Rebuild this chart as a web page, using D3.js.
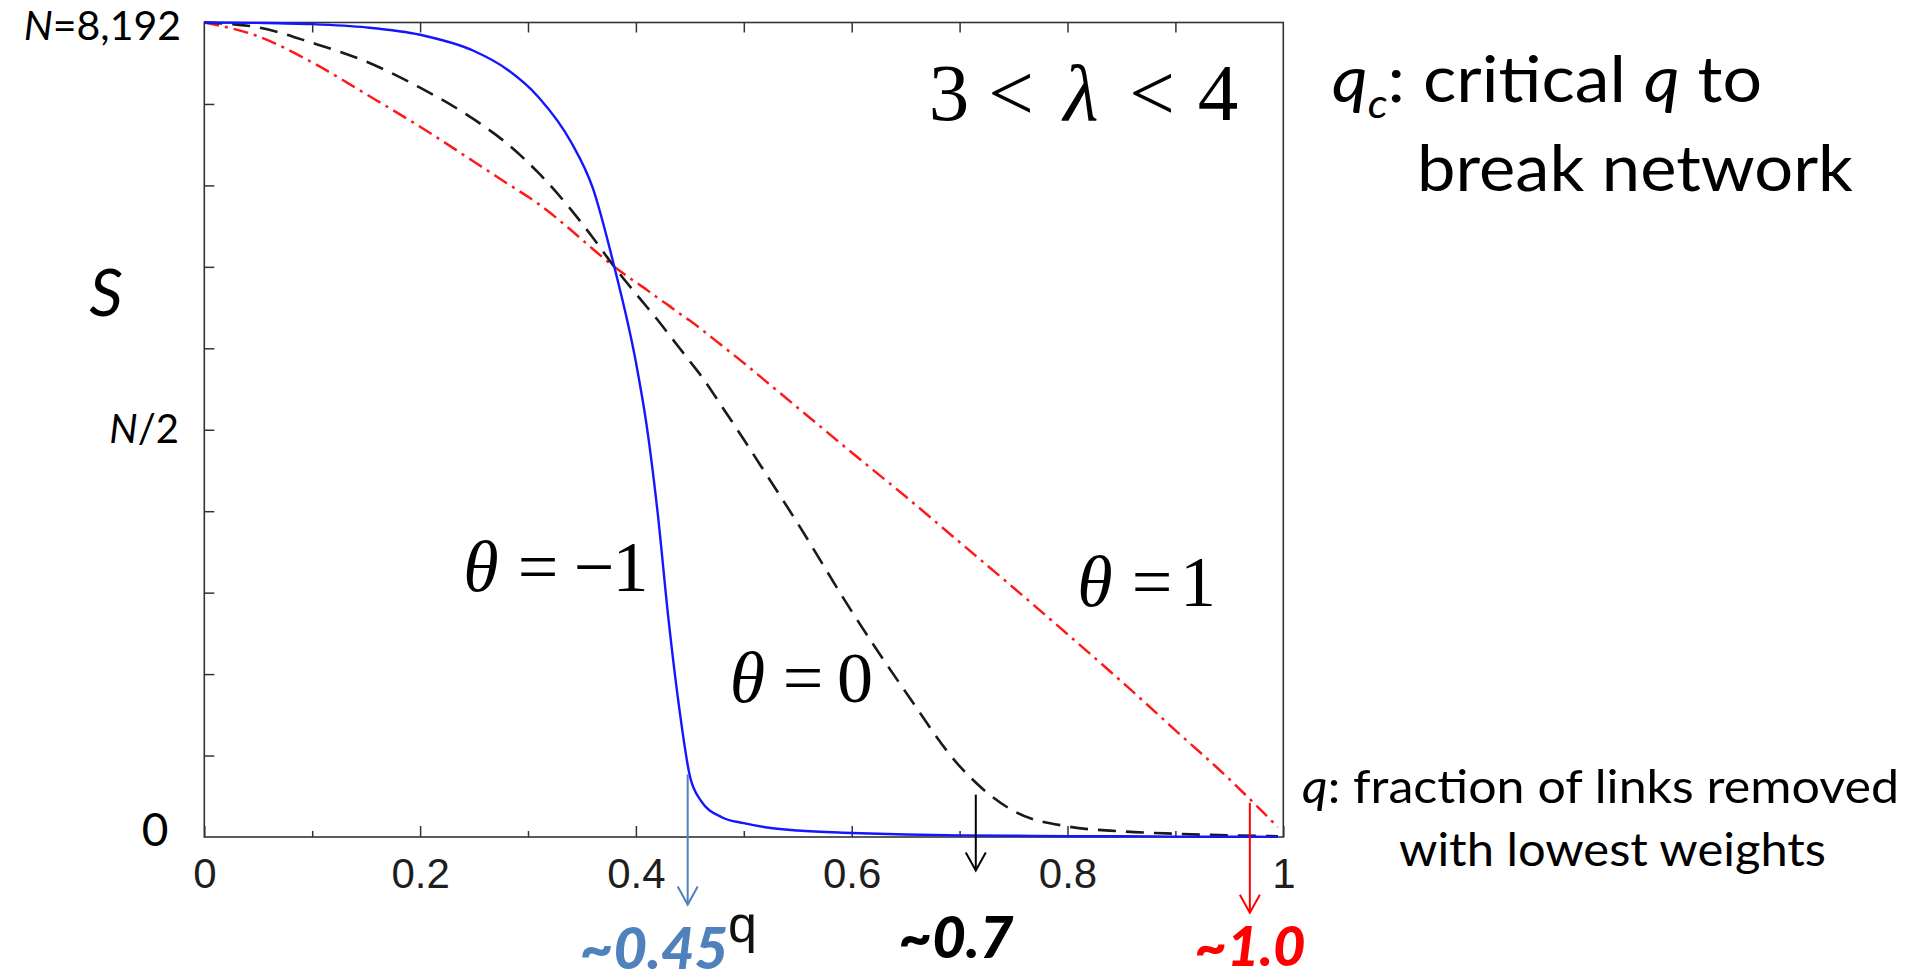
<!DOCTYPE html>
<html>
<head>
<meta charset="utf-8">
<script src="https://cdn.jsdelivr.net/npm/d3@7"></script>
<style>
  html, body { margin: 0; padding: 0; background: #fff; }
  svg { display: block; }
</style>
</head>
<body>
<svg id="chart" width="1909" height="980"></svg>
<script>
// ---------------- DATA ----------------
const qGrid = [0, 0.05, 0.10, 0.15, 0.20, 0.25, 0.28, 0.31, 0.34, 0.36, 0.38, 0.40, 0.41, 0.42, 0.43, 0.44, 0.45, 0.46, 0.48, 0.50, 0.52, 0.55, 0.60, 0.65, 0.70, 0.75, 0.80, 0.85, 0.90, 0.95, 0.995];
// S / N for theta = -1 (blue solid)
const sThetaMinus1 = [1.000, 0.9995, 0.998, 0.994, 0.985, 0.965, 0.943, 0.908, 0.853, 0.797, 0.700, 0.583, 0.505, 0.400, 0.270, 0.160, 0.075, 0.045, 0.024, 0.017, 0.012, 0.008, 0.005, 0.003, 0.002, 0.0015, 0.001, 0.001, 0.0005, 0.0003, 0.0002];
// S / N for theta = 0 (black dashed)
const sTheta0 = [1.000, 0.994, 0.975, 0.952, 0.920, 0.881, 0.852, 0.815, 0.770, 0.736, 0.700, 0.667, 0.651, 0.635, 0.618, 0.601, 0.584, 0.567, 0.528, 0.488, 0.447, 0.385, 0.277, 0.178, 0.087, 0.032, 0.013, 0.007, 0.004, 0.002, 0.001];
// S / N for theta = 1 (red dash-dot)
const sTheta1 = [1.000, 0.983, 0.951, 0.912, 0.872, 0.829, 0.803, 0.777, 0.745, 0.722, 0.700, 0.681, 0.672, 0.662, 0.653, 0.643, 0.634, 0.624, 0.603, 0.582, 0.560, 0.527, 0.472, 0.418, 0.362, 0.306, 0.249, 0.191, 0.131, 0.071, 0.012];

const xMajorTicks = [0, 0.2, 0.4, 0.6, 0.8, 1];
const xMajorLabels = ["0", "0.2", "0.4", "0.6", "0.8", "1"];
const xMinorTicks = [0.1, 0.3, 0.5, 0.7, 0.9];
const xTopTicks = [0.1, 0.2, 0.3, 0.4, 0.5, 0.6, 0.7, 0.8, 0.9];
const yTicks = [0.1, 0.2, 0.3, 0.4, 0.5, 0.6, 0.7, 0.8, 0.9];

// critical q annotations
const qcValues = [0.448, 0.715, 0.969];
const qcArrowTop = [0.077, 0.052, 0.042];
const qcArrowTip = [-0.083, -0.041, -0.093];
const qcLabels = ["~0.45", "~0.7", "~1.0"];
const qcColors = ["#4f81bd", "#000000", "#ff0000"];

// ---------------- LAYOUT ----------------
const svg = d3.select("#chart");
const margin = { left: 204.3, right: 1283.3, top: 22.5, bottom: 837 };
const x = d3.scaleLinear().domain([0, 1]).range([margin.left, margin.right]);
const y = d3.scaleLinear().domain([0, 1]).range([margin.bottom, margin.top]);

const CAL = "Lato, 'Open Sans', sans-serif";
const SERIF = "'Liberation Serif', 'Times New Roman', serif";
const ARIAL = "'Liberation Sans', Arial, sans-serif";

// axes
function styleAxis(g) {
  g.select(".domain").remove();
  g.selectAll(".tick line").attr("stroke", "#333").attr("stroke-width", 1.5);
}
svg.append("g").attr("transform", `translate(0,${y(0)})`)
  .call(d3.axisBottom(x).tickValues(xMajorTicks).tickSize(-11).tickPadding(21)
    .tickFormat((d, i) => xMajorLabels[i]))
  .call(styleAxis)
  .call(g => g.selectAll(".tick text").attr("font-family", ARIAL).attr("font-size", 42).attr("fill", "#1e1e1e"));
svg.append("g").attr("transform", `translate(0,${y(0)})`)
  .call(d3.axisBottom(x).tickValues(xMinorTicks).tickSize(-6).tickFormat(""))
  .call(styleAxis);
svg.append("g").attr("transform", `translate(0,${y(1)})`)
  .call(d3.axisTop(x).tickValues(xTopTicks).tickSize(-10).tickFormat(""))
  .call(styleAxis);
svg.append("g").attr("transform", `translate(${x(0)},0)`)
  .call(d3.axisLeft(y).tickValues(yTicks).tickSize(-10).tickFormat(""))
  .call(styleAxis);

// frame
svg.append("rect")
  .attr("x", x(0)).attr("y", y(1))
  .attr("width", x(1) - x(0)).attr("height", y(0) - y(1))
  .attr("fill", "none").attr("stroke", "#333").attr("stroke-width", 1.6);

// curves
const line = d3.line().x(d => x(d[0])).y(d => y(d[1])).curve(d3.curveMonotoneX);
const series = [
  { vals: sTheta1, color: "#ff1a1a", width: 2.5, dash: "15,6,3,6" },
  { vals: sTheta0, color: "#1a1a1a", width: 2.6, dash: "18,10" },
  { vals: sThetaMinus1, color: "#1515ff", width: 2.4, dash: null }
];
series.forEach(s => {
  svg.append("path")
    .datum(qGrid.map((q, i) => [q, s.vals[i]]))
    .attr("d", line)
    .attr("fill", "none")
    .attr("stroke", s.color)
    .attr("stroke-width", s.width)
    .attr("stroke-dasharray", s.dash);
});

// critical-q arrows and labels
const labelCenters = [654, 956, 1250];
const labelBaselines = [969, 958, 966];
const labelSizes = [58, 58, 56];
qcValues.forEach((q, i) => {
  const g = svg.append("g").attr("stroke", qcColors[i]).attr("stroke-width", 2).attr("fill", "none");
  const xa = x(q), y0 = y(qcArrowTop[i]), y1 = y(qcArrowTip[i]);
  g.append("line").attr("x1", xa).attr("x2", xa).attr("y1", y0).attr("y2", y1);
  g.append("path").attr("d", `M${xa - 10},${y1 - 18}L${xa},${y1}L${xa + 10},${y1 - 18}`);
  svg.append("text")
    .attr("x", labelCenters[i]).attr("y", labelBaselines[i])
    .attr("text-anchor", "middle")
    .attr("font-family", CAL).attr("font-weight", 900).attr("font-style", "italic")
    .attr("font-size", labelSizes[i]).attr("fill", qcColors[i])
    .text(qcLabels[i]);
});

// axis label q (below axis)
svg.append("text").attr("x", 728).attr("y", 942)
  .attr("font-family", ARIAL).attr("font-size", 52).attr("fill", "#111").text("q");

// y labels
const yl = svg.append("g").attr("font-family", CAL).attr("fill", "#000");
const t1 = yl.append("text").attr("x", 181).attr("y", 40).attr("text-anchor", "end").attr("font-size", 41);
t1.append("tspan").attr("font-style", "italic").text("N");
t1.append("tspan").text("=8,192");
const t2 = yl.append("text").attr("x", 179).attr("y", 443).attr("text-anchor", "end").attr("font-size", 40);
t2.append("tspan").attr("font-style", "italic").text("N");
t2.append("tspan").text("/2");
yl.append("text").attr("x", 155).attr("y", 846).attr("text-anchor", "middle").attr("font-size", 46).text("0");
yl.append("text").attr("x", 106).attr("y", 316).attr("text-anchor", "middle").attr("font-size", 66).attr("font-style", "italic").text("S");

// serif math labels
function mathLabel(parts, baseline, size) {
  const t = svg.append("text").attr("y", baseline).attr("font-family", SERIF).attr("font-size", size).attr("fill", "#000").attr("text-anchor", "middle");
  parts.forEach(p => {
    t.append("tspan").attr("x", p.cx).attr("y", baseline).attr("font-style", p.it ? "italic" : "normal").text(p.s);
  });
}
mathLabel([{ s: "3", cx: 949 }, { s: "<", cx: 1011 }, { s: "λ", cx: 1081, it: true }, { s: "<", cx: 1152 }, { s: "4", cx: 1218 }], 120, 81);
mathLabel([{ s: "θ", cx: 481, it: true }, { s: "=", cx: 538 }, { s: "−", cx: 594 }, { s: "1", cx: 630.5 }], 591, 72);
mathLabel([{ s: "θ", cx: 747.5, it: true }, { s: "=", cx: 803 }, { s: "0", cx: 855 }], 702, 72);
mathLabel([{ s: "θ", cx: 1095, it: true }, { s: "=", cx: 1152 }, { s: "1", cx: 1198 }], 606, 72);

// right-side notes
const notes = svg.append("g").attr("font-family", CAL).attr("fill", "#000");
const n1 = notes.append("text").attr("x", 1332).attr("y", 102).attr("font-size", 64)
  .attr("textLength", 430).attr("lengthAdjust", "spacingAndGlyphs");
n1.append("tspan").attr("font-style", "italic").text("q");
n1.append("tspan").attr("font-style", "italic").attr("font-size", 40).attr("dy", 16).text("c");
n1.append("tspan").attr("dy", -16).text(": critical ");
n1.append("tspan").attr("font-style", "italic").text("q");
n1.append("tspan").text(" to");
notes.append("text").attr("x", 1417).attr("y", 191).attr("font-size", 64)
  .attr("textLength", 436).attr("lengthAdjust", "spacingAndGlyphs").text("break network");

const n3 = notes.append("text").attr("x", 1302).attr("y", 803).attr("font-size", 46)
  .attr("textLength", 597).attr("lengthAdjust", "spacingAndGlyphs");
n3.append("tspan").attr("font-style", "italic").text("q");
n3.append("tspan").text(":  fraction of links removed");
notes.append("text").attr("x", 1399).attr("y", 866).attr("font-size", 46)
  .attr("textLength", 427).attr("lengthAdjust", "spacingAndGlyphs").text("with lowest weights");
</script>
</body>
</html>
